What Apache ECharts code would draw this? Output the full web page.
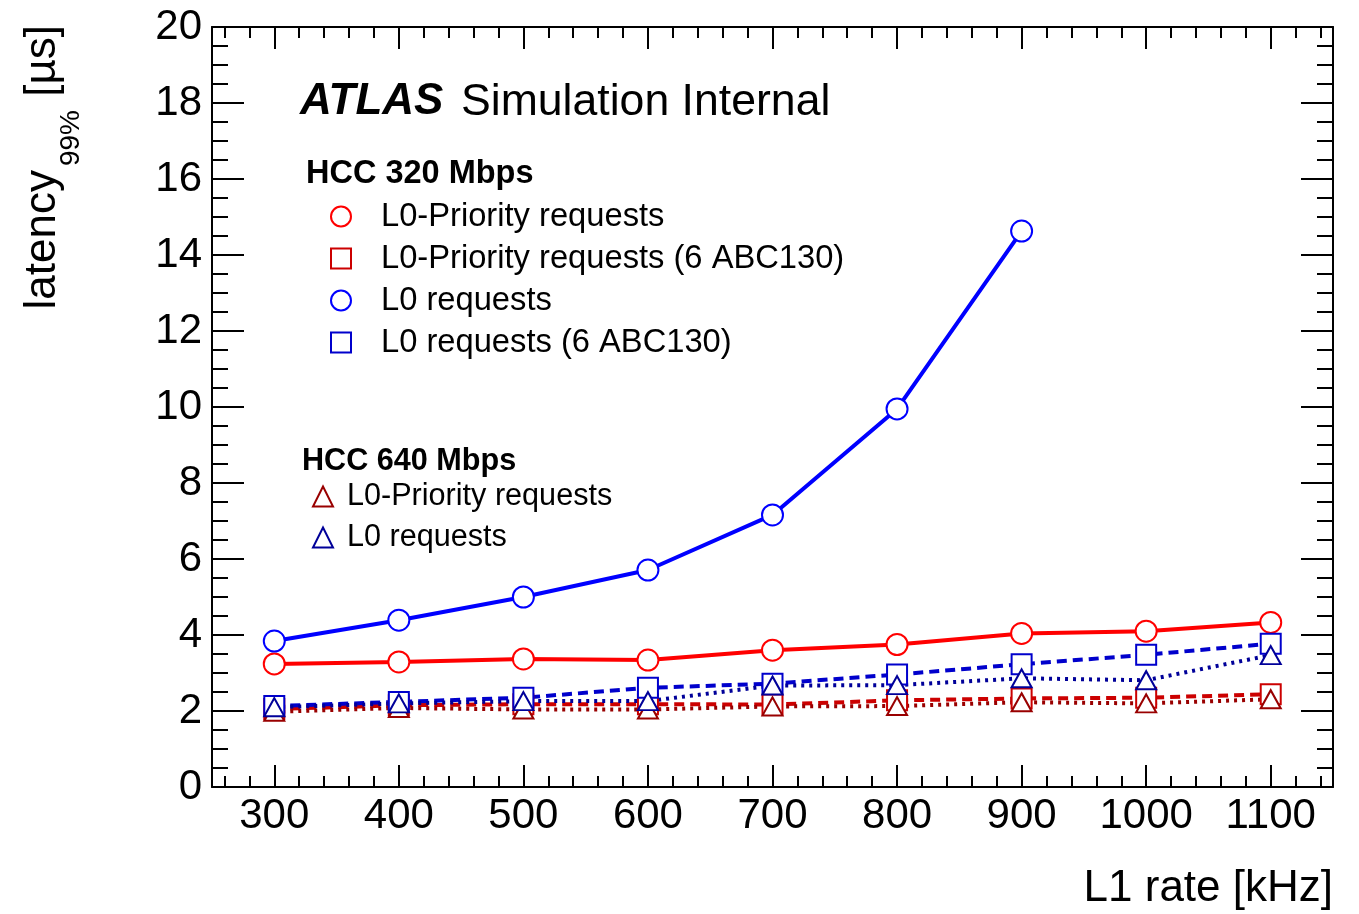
<!DOCTYPE html>
<html>
<head>
<meta charset="utf-8">
<title>latency vs L1 rate</title>
<script src="https://cdn.jsdelivr.net/npm/echarts@6/dist/echarts.min.js"></script>
<style>
  html, body { margin: 0; padding: 0; background: #fff; }
  #chart { width: 1359px; height: 914px; }
</style>
</head>
<body>
<div id="chart"></div>
<script>
// L1 rate [kHz]
const rateKHz = [300, 400, 500, 600, 700, 800, 900, 1000, 1100];
// HCC 320 Mbps
const prio320 = [3.24, 3.29, 3.37, 3.34, 3.60, 3.75, 4.04, 4.10, 4.33];
const prio320Abc6 = [2.05, 2.15, 2.18, 2.18, 2.17, 2.28, 2.33, 2.35, 2.44];
const l0320 = [3.84, 4.39, 5.00, 5.71, 7.16, 9.95, 14.63];
const l0320Abc6 = [2.13, 2.24, 2.35, 2.61, 2.72, 2.96, 3.23, 3.48, 3.77];
// HCC 640 Mbps
const prio640 = [1.98, 2.08, 2.04, 2.04, 2.12, 2.13, 2.23, 2.20, 2.31];
const l0640 = [2.10, 2.20, 2.26, 2.26, 2.67, 2.68, 2.86, 2.81, 3.47];

const xMajor = [300, 400, 500, 600, 700, 800, 900, 1000, 1100];
const xMinor = [];
for (let v = 260; v <= 1140; v += 20) xMinor.push(v);

const FONT = '"Liberation Sans", Arial, Helvetica, sans-serif';

function pts(ys) {
  return ys.map((y, i) => [rateKHz[i], y]);
}

function mkSeries(name, ys, color, lineType, symbol, size) {
  return {
    name: name,
    type: 'line',
    data: pts(ys),
    symbol: symbol,
    symbolSize: size,
    showAllSymbol: true,
    lineStyle: { color: color, width: 4, type: lineType },
    itemStyle: { color: '#fff', borderColor: color, borderWidth: 2 },
    emphasis: { disabled: true },
  };
}

// x axes: bottom/top, major + minor ticks drawn inside
function xAx(pos, values, len, withLabels, withLine) {
  return {
    type: 'value',
    position: pos,
    min: 250,
    max: 1150,
    axisLine: { show: withLine, onZero: false, lineStyle: { color: '#000', width: 2 } },
    axisTick: { show: true, inside: true, length: len, customValues: values, lineStyle: { color: '#000', width: 2 } },
    axisLabel: withLabels
      ? {
          show: true, customValues: xMajor, color: '#000', fontSize: 42, fontFamily: FONT, margin: 8,
          formatter: function (v) { return String(v); },
        }
      : { show: false },
    splitLine: { show: false },
  };
}

function yAx(pos, withLabels) {
  return {
    type: 'value',
    position: pos,
    min: 0,
    max: 20,
    interval: 2,
    axisLine: { show: true, onZero: false, lineStyle: { color: '#000', width: 2 } },
    axisTick: { show: true, inside: true, length: 32, lineStyle: { color: '#000', width: 2 } },
    minorTick: { show: true, splitNumber: 4, length: 16, lineStyle: { color: '#000', width: 2 } },
    axisLabel: withLabels
      ? { show: true, color: '#000', fontSize: 42, fontFamily: FONT, margin: 10 }
      : { show: false },
    splitLine: { show: false },
    minorSplitLine: { show: false },
  };
}

let option = {
  animation: false,
  backgroundColor: '#fff',
  grid: { left: 212, right: 26, top: 27, bottom: 127, containLabel: false },
  xAxis: [
    xAx('bottom', xMajor, 22, true, true),
    xAx('bottom', xMinor, 11, false, false),
    xAx('top', xMajor, 22, false, true),
    xAx('top', xMinor, 11, false, false),
  ],
  yAxis: [yAx('left', true), yAx('right', false)],
  legend: [
    {
      data: ['L0-Priority requests', 'L0-Priority requests (6 ABC130)', 'L0 requests', 'L0 requests (6 ABC130)'],
      orient: 'vertical',
      left: 305,
      top: 200,
      padding: 0,
      itemWidth: 70,
      itemHeight: 25,
      itemGap: 9,
      selectedMode: false,
      lineStyle: { opacity: 0 },
      textStyle: { color: '#000', fontSize: 32.7, lineHeight: 32, fontFamily: FONT },
    },
    {
      data: ['L0-Priority requests ', 'L0 requests '],
      orient: 'vertical',
      left: 303,
      top: 481,
      padding: 0,
      itemWidth: 38,
      itemHeight: 25,
      itemGap: 10,
      selectedMode: false,
      lineStyle: { opacity: 0 },
      textStyle: { color: '#000', fontSize: 30.6, lineHeight: 30, fontFamily: FONT },
    },
  ],
  graphic: [
    {
      type: 'text', left: 300, top: 80,
      style: { text: 'ATLAS', fontSize: 44, fontWeight: 'bold', fontStyle: 'italic', fontFamily: FONT, fill: '#000' },
    },
    {
      type: 'text', left: 461, top: 80,
      style: { text: 'Simulation Internal', fontSize: 44.6, fontFamily: FONT, fill: '#000' },
    },
    {
      type: 'text', left: 306, top: 158,
      style: { text: 'HCC 320 Mbps', fontSize: 32.5, fontWeight: 'bold', fontFamily: FONT, fill: '#000' },
    },
    {
      type: 'text', left: 302, top: 446,
      style: { text: 'HCC 640 Mbps', fontSize: 30.6, fontWeight: 'bold', fontFamily: FONT, fill: '#000' },
    },
    {
      type: 'text', x: 1333, y: 889,
      style: { text: 'L1 rate [kHz]', fontSize: 44, fontFamily: FONT, fill: '#000', align: 'right', verticalAlign: 'middle' },
    },
    // y title, rotated, pieces for the subscript
    {
      type: 'text', x: 43, y: 170, rotation: Math.PI / 2,
      style: { text: 'latency', fontSize: 44, fontFamily: FONT, fill: '#000', align: 'right', verticalAlign: 'middle' },
    },
    {
      type: 'text', x: 71, y: 110, rotation: Math.PI / 2,
      style: { text: '99%', fontSize: 28, fontFamily: FONT, fill: '#000', align: 'right', verticalAlign: 'middle' },
    },
    {
      type: 'text', x: 43, y: 25, rotation: Math.PI / 2,
      style: { text: '[µs]', fontSize: 44, fontFamily: FONT, fill: '#000', align: 'right', verticalAlign: 'middle' },
    },
  ],
  series: [
    mkSeries('L0-Priority requests', prio320, '#ff0000', 'solid', 'circle', 21),
    mkSeries('L0-Priority requests (6 ABC130)', prio320Abc6, '#cc0000', [10, 6], 'rect', 20),
    mkSeries('L0-Priority requests ', prio640, '#990000', [3, 5], 'triangle', [20, 18]),
    mkSeries('L0 requests', l0320, '#0000ff', 'solid', 'circle', 21),
    mkSeries('L0 requests (6 ABC130)', l0320Abc6, '#0000cc', [10, 6], 'rect', 20),
    mkSeries('L0 requests ', l0640, '#000099', [3, 5], 'triangle', [20, 18]),
  ],
};

let chart = echarts.init(document.getElementById('chart'));
chart.setOption(option);
</script>
</body>
</html>
